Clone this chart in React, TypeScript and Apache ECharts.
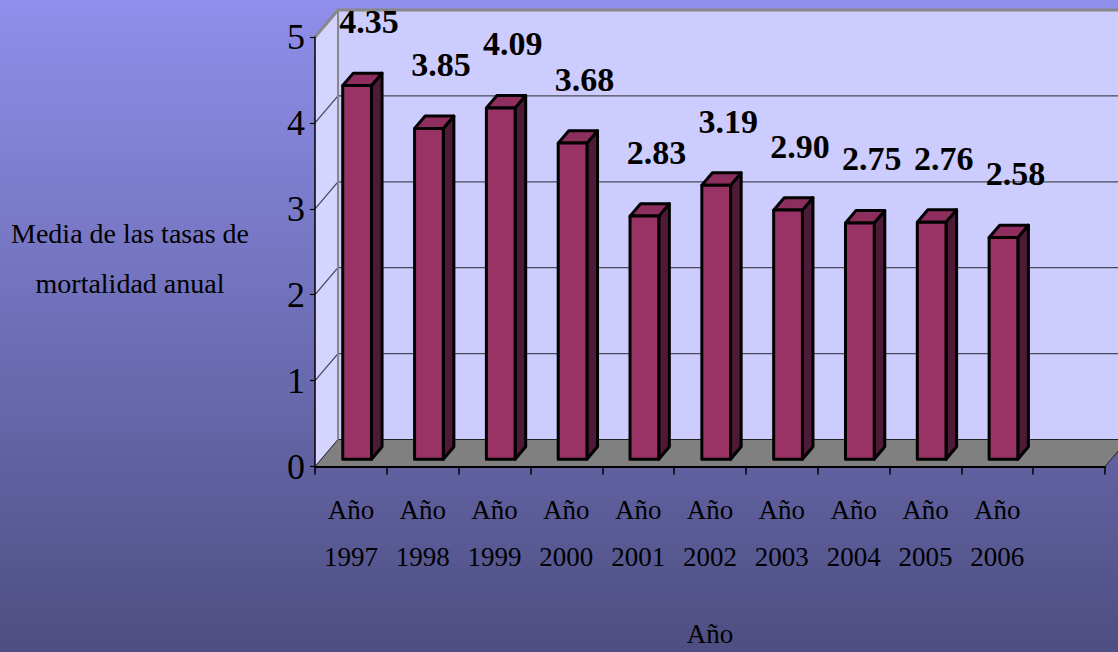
import React, { useEffect, useRef } from 'react';
import * as echarts from 'echarts';

const years = ['1997', '1998', '1999', '2000', '2001', '2002', '2003', '2004', '2005', '2006'];
const values = [4.35, 3.85, 4.09, 3.68, 2.83, 3.19, 2.9, 2.75, 2.76, 2.58];
const yTicks = [0, 1, 2, 3, 4, 5];
const categoryPrefix = 'Año';
const yAxisTitle = 'Media de las tasas de\nmortalidad anual';
const xAxisTitle = 'Año';

const DX = 23;
const DY = -27;
const BAR_FRONT = 0.27;
const BAR_DEPTH = 0.46;
const BAR_WIDTH = 0.4;
const FONT = 'Liberation Serif';

export default function App() {
  const ref = useRef<HTMLDivElement>(null);
  useEffect(() => {
    if (!ref.current) return;
    const chart = echarts.init(ref.current, null, { renderer: 'svg' });
    const categories = [...years.map((y) => `${categoryPrefix}\n${y}`), ''];
    const yMax = yTicks[yTicks.length - 1];

    const wallsRender = (params: any, api: any) => {
      const cs = params.coordSys;
      const x = cs.x, y = cs.y, w = cs.width, h = cs.height;
      const children: any[] = [
        {
          type: 'polygon',
          shape: { points: [[x, y + h], [x, y], [x + DX, y + DY], [x + DX, y + h + DY]] },
          style: { fill: '#d4d4ff' },
        },
        {
          type: 'rect',
          shape: { x: x + DX, y: y + DY, width: w, height: h },
          style: { fill: '#ccccff' },
        },
        {
          type: 'polygon',
          shape: { points: [[x, y + h], [x + DX, y + h + DY], [x + w + DX, y + h + DY], [x + w, y + h]] },
          style: { fill: '#808080', stroke: '#222', lineWidth: 1 },
        },
      ];
      yTicks.forEach((v) => {
        if (v <= 0 || v >= yMax) return;
        const py = api.coord([0, v])[1];
        children.push({
          type: 'polyline',
          shape: { points: [[x, py], [x + DX, py + DY], [x + w + DX, py + DY]] },
          style: { stroke: '#4a4a5a', lineWidth: 1.3, fill: null },
        });
      });
      children.push({
        type: 'polyline',
        shape: { points: [[x, y], [x + DX, y + DY], [x + w + DX, y + DY]] },
        style: { stroke: '#888888', lineWidth: 3, fill: null },
      });
      children.push({
        type: 'line',
        shape: { x1: x + DX, y1: y + DY, x2: x + DX, y2: y + h + DY },
        style: { stroke: '#888888', lineWidth: 2 },
      });
      return { type: 'group', children };
    };

    const barRender = (params: any, api: any) => {
      const i = api.value(0);
      const v = api.value(1);
      const base = api.coord([i, 0]);
      const top = api.coord([i, v]);
      const slot = api.size([1, 0])[0];
      const bw = slot * BAR_WIDTH;
      const fx = DX * BAR_FRONT, fy = DY * BAR_FRONT;
      const bx = DX * BAR_DEPTH, by = DY * BAR_DEPTH;
      const x0 = base[0] - bw / 2 + fx;
      const x1 = x0 + bw;
      const yb = base[1] + fy;
      const yt = top[1] + fy;
      const stroke = { stroke: '#000', lineWidth: 3, lineJoin: 'round' };
      return {
        type: 'group',
        children: [
          {
            type: 'polygon',
            shape: { points: [[x1, yt], [x1 + bx, yt + by], [x1 + bx, yb + by], [x1, yb]] },
            style: { fill: '#4d1a38', ...stroke },
          },
          {
            type: 'polygon',
            shape: { points: [[x0, yt], [x0 + bx, yt + by], [x1 + bx, yt + by], [x1, yt]] },
            style: { fill: '#8e2e5e', ...stroke },
          },
          {
            type: 'rect',
            shape: { x: x0, y: yt, width: bw, height: yb - yt },
            style: { fill: '#993366', ...stroke },
          },
          {
            type: 'text',
            x: x0 + bw / 2 + 12,
            y: yt - 64,
            style: {
              text: v.toFixed(2),
              fontSize: 34,
              fontWeight: 'bold',
              fontFamily: FONT,
              fill: '#000',
              align: 'center',
              verticalAlign: 'middle',
            },
          },
        ],
      };
    };

    const option: any = {
      animation: false,
      backgroundColor: new echarts.graphic.LinearGradient(0, 0, 0, 1, [
        { offset: 0, color: '#8f8fec' },
        { offset: 1, color: '#4e4e82' },
      ]),
      title: {
        text: yAxisTitle,
        left: 125,
        top: 253,
        textAlign: 'center',
        textVerticalAlign: 'middle',
        textStyle: {
          fontSize: 28,
          lineHeight: 50,
          fontFamily: FONT,
          fontWeight: 'normal',
          color: '#000',
          align: 'center',
        },
      },
      grid: { left: 315, top: 37, width: 790, height: 431 },
      xAxis: {
        type: 'category',
        data: categories,
        z: 10,
        name: xAxisTitle,
        nameLocation: 'middle',
        nameGap: 167,
        nameTextStyle: { fontSize: 27, fontFamily: FONT, color: '#000', verticalAlign: 'middle' },
        axisLine: { lineStyle: { color: '#000', width: 2 } },
        axisTick: { show: true, length: 8, interval: 0, lineStyle: { color: '#000', width: 1.5 } },
        axisLabel: {
          interval: 0,
          fontSize: 27,
          lineHeight: 47,
          margin: 20,
          color: '#000',
          fontFamily: FONT,
        },
        splitLine: { show: false },
      },
      yAxis: {
        type: 'value',
        min: yTicks[0],
        max: yMax,
        interval: 1,
        z: 10,
        axisLine: { show: true, lineStyle: { color: '#000', width: 1.5 } },
        axisTick: { show: true, length: 5, lineStyle: { color: '#000', width: 1.2 } },
        axisLabel: { fontSize: 36, color: '#000', fontFamily: FONT, margin: 10 },
        splitLine: { show: false },
      },
      series: [
        {
          type: 'custom',
          z: 1,
          silent: true,
          data: [[0, 0]],
          encode: { x: 0, y: 1 },
          renderItem: wallsRender,
        },
        {
          type: 'custom',
          z: 3,
          data: values.map((v, i) => [i, v]),
          encode: { x: 0, y: 1 },
          renderItem: barRender,
        },
      ],
    };
    chart.setOption(option);
    return () => chart.dispose();
  }, []);
  return <div ref={ref} style={{ position: 'fixed', left: 0, top: 0, width: 1118, height: 652 }} />;
}
